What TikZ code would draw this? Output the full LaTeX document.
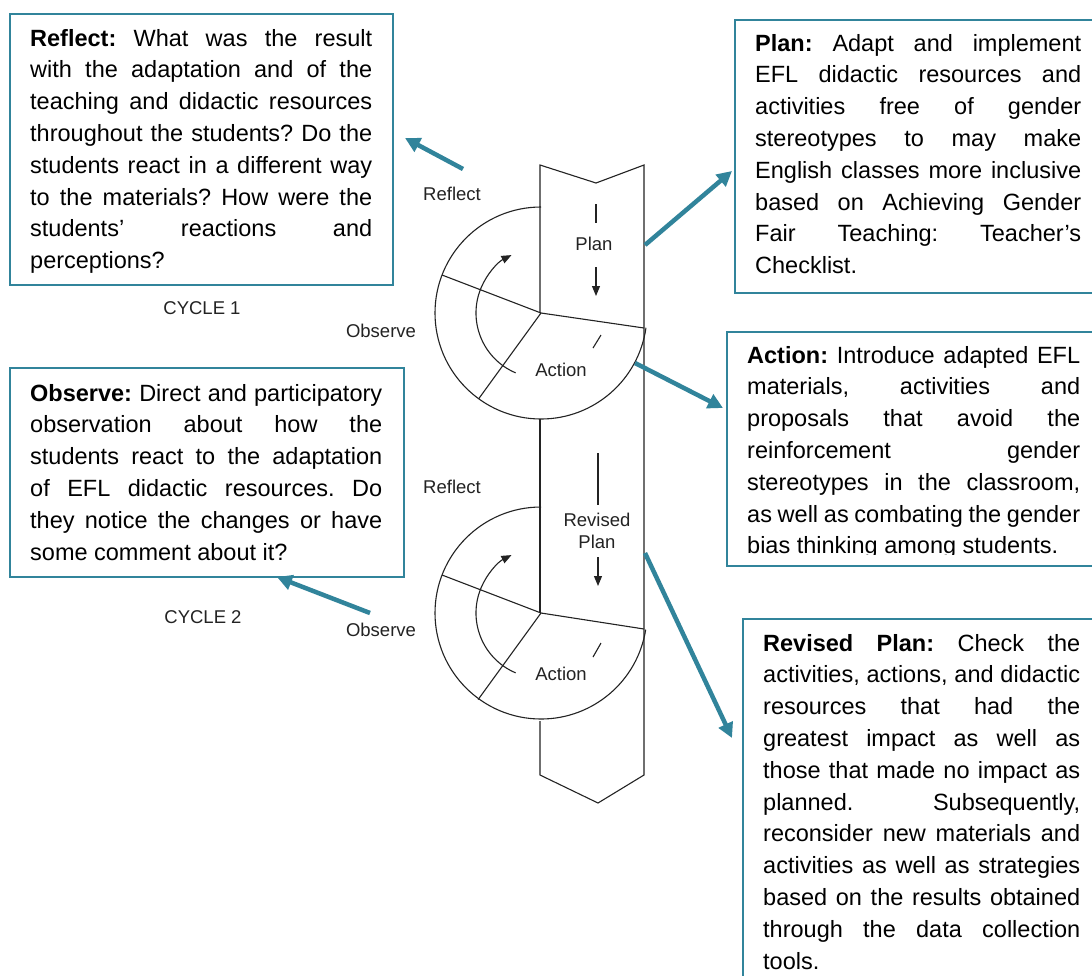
\documentclass[tikz,border=0pt]{standalone}
\usepackage{fontspec}
\setmainfont{Liberation Sans}
\usetikzlibrary{arrows.meta}
\definecolor{tealc}{RGB}{49,132,155}
\definecolor{inkc}{RGB}{35,35,35}
\newcommand\jl[1]{\hbox to \hsize{#1}}
\newcommand\nl[1]{\hbox{#1}}
\tikzset{
  boxframe/.style={draw=tealc, line width=2pt, rectangle, inner sep=0pt, anchor=north west},
  boxtext/.style={inner sep=0pt, anchor=base west, text=black,
    font={\fontsize{23.5}{31.8}\selectfont\frenchspacing\hbadness=10000\hfuzz=20pt}},
  lbl/.style={inner sep=0pt, anchor=base, text=inkc, font={\fontsize{18.5}{20}\selectfont}},
  diag/.style={line width=1.1pt, draw=inkc, line join=miter},
  smallarrow/.style={diag, -{Triangle[length=10pt,width=8pt]}},
  callout/.style={draw=tealc, line width=4.5pt, -{Triangle[length=15pt,width=15pt]}}
}
\begin{document}
\begin{tikzpicture}[x=1pt,y=-1pt]
\clip (0,0) rectangle (1092,975);
\fill[white] (0,0) rectangle (1092,975);

% ---------- central band ----------
\coordinate (c1) at (541,313);
\coordinate (c2) at (541,613);
\draw[diag] (540,313) -- (540,165) -- (596,183) -- (644,165) -- (644,775) -- (598,803) -- (540,775) -- (540,721);
\draw[diag] (540,419) -- (540,613);

% ---------- cycle 1 ----------
\draw[diag] (c1) ++(270:106) arc[start angle=270, end angle=8, radius=106];
\draw[diag] (c1) -- ++(201:106);
\draw[diag] (c1) -- ++(126:106);
\draw[diag] (c1) -- (644,328);
\draw[smallarrow] (c1) ++(113:65) arc[start angle=113, end angle=243, radius=65];
\draw[diag] (596,204) -- (596,223);
\draw[smallarrow] (596,267) -- (596,296);
\draw[diag] (593,348) -- (601,335);

% ---------- cycle 2 ----------
\draw[diag] (c2) ++(270:106) arc[start angle=270, end angle=9, radius=106];
\draw[diag] (c2) -- ++(201:106);
\draw[diag] (c2) -- ++(126:107);
\draw[diag] (c2) -- (644,629);
\draw[smallarrow] (c2) ++(113:65) arc[start angle=113, end angle=243, radius=65];
\draw[diag] (598,453) -- (598,505);
\draw[smallarrow] (598,557) -- (598,586);
\draw[diag] (593,657) -- (601,643);

% ---------- labels ----------
\node[lbl] (reflect1) at (452,200) {Reflect};
\node[lbl] (plan1) at (594,250) {Plan};
\node[lbl] (action1) at (561,376) {Action};
\node[lbl] (observe1) at (381,337) {Observe};
\node[lbl] (cycle1) at (202,314) {CYCLE 1};
\node[lbl] (reflect2) at (452,493) {Reflect};
\node[lbl] (revised2) at (597,526) {Revised};
\node[lbl] (plan2) at (597,548) {Plan};
\node[lbl] (action2) at (561,680) {Action};
\node[lbl] (observe2) at (381,636) {Observe};
\node[lbl] (cycle2) at (203,623) {CYCLE 2};

% ---------- boxes ----------
\node[boxframe, minimum width=383pt, minimum height=271pt] (reflectbox) at (9,13) {};
\node[boxtext] (reflecttext) at (30,46) {\vtop{\hsize=342pt
\jl{\textbf{Reflect:} What was the result}
\jl{with the adaptation and of the}
\jl{teaching and didactic resources}
\jl{throughout the students? Do the}
\jl{students react in a different way}
\jl{to the materials? How were the}
\jl{students’ reactions and}
\nl{perceptions?}}};

\node[boxframe, minimum width=400pt, minimum height=273pt] (planbox) at (734,19) {};
\node[boxtext] (plantext) at (755,51) {\vtop{\hsize=326pt
\jl{\textbf{Plan:} Adapt and implement}
\jl{EFL didactic resources and}
\jl{activities free of gender}
\jl{stereotypes to may make}
\jl{English classes more inclusive}
\jl{based on Achieving Gender}
\jl{Fair Teaching: Teacher’s}
\nl{Checklist.}}};

\node[boxframe, minimum width=394pt, minimum height=209pt] (observebox) at (9,367) {};
\node[boxtext] (observetext) at (30,401) {\vtop{\hsize=352pt
\jl{\textbf{Observe:} Direct and participatory}
\jl{observation about how the}
\jl{students react to the adaptation}
\jl{of EFL didactic resources. Do}
\jl{they notice the changes or have}
\nl{some comment about it?}}};

\node[boxframe, minimum width=400pt, minimum height=234pt] (actionbox) at (726,331) {};
\begin{scope}
\clip (726,331) rectangle (1092,554);
\node[boxtext] (actiontext) at (747,363) {\vtop{\hsize=333pt
\jl{\textbf{Action:} Introduce adapted EFL}
\jl{materials, activities and}
\jl{proposals that avoid the}
\jl{reinforcement gender}
\jl{stereotypes in the classroom,}
\jl{as well as combating the gender}
\nl{bias thinking among students.}}};
\end{scope}

\node[boxframe, minimum width=400pt, minimum height=400pt] (revisedbox) at (742,618) {};
\node[boxtext] (revisedtext) at (763,651) {\vtop{\hsize=317pt
\jl{\textbf{Revised Plan:} Check the}
\jl{activities, actions, and didactic}
\jl{resources that had the}
\jl{greatest impact as well as}
\jl{those that made no impact as}
\jl{planned. Subsequently,}
\jl{reconsider new materials and}
\jl{activities as well as strategies}
\jl{based on the results obtained}
\jl{through the data collection}
\nl{tools.}}};

% ---------- callout arrows ----------
\coordinate (reflectfrom) at (463,169);
\coordinate (reflectto) at (405,138);
\coordinate (planfrom) at (645,245);
\coordinate (planto) at (732,171);
\coordinate (observefrom) at (370,613);
\coordinate (observeto) at (277,577);
\coordinate (actionfrom) at (635,363);
\coordinate (actionto) at (723,408);
\coordinate (revisedfrom) at (645,553);
\coordinate (revisedto) at (732,738);
\draw[callout] (reflectfrom) -- (reflectto);
\draw[callout] (planfrom) -- (planto);
\draw[callout] (observefrom) -- (observeto);
\draw[callout] (actionfrom) -- (actionto);
\draw[callout] (revisedfrom) -- (revisedto);
\end{tikzpicture}
\end{document}
